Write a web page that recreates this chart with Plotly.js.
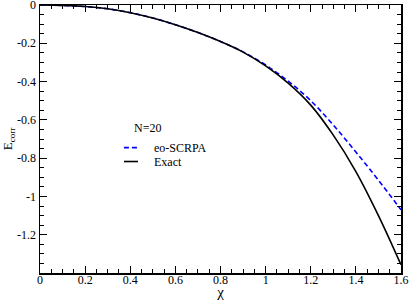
<!DOCTYPE html>
<html>
<head>
<meta charset="utf-8">
<script src="https://cdn.plot.ly/plotly-3.0.1.min.js"></script>
<style>html,body{margin:0;padding:0;background:#fff;}#chart{width:409px;height:300px;}</style>
</head>
<body>
<div id="chart"></div>
<script>
// Data
const chi = [0, 0.1, 0.2, 0.3, 0.4, 0.5, 0.6, 0.7, 0.8, 0.9, 1.0, 1.1, 1.2, 1.3, 1.4, 1.5, 1.6];
const eExact = [0, -0.002, -0.008, -0.02, -0.04, -0.068, -0.103, -0.144, -0.191, -0.246, -0.318, -0.408, -0.523, -0.68, -0.87, -1.1, -1.357];
const eScrpa = [0, -0.002, -0.008, -0.02, -0.04, -0.068, -0.103, -0.144, -0.191, -0.245, -0.313, -0.398, -0.5, -0.627, -0.768, -0.915, -1.07];
const xTickVals = [0, 0.2, 0.4, 0.6, 0.8, 1.0, 1.2, 1.4, 1.6];
const xTickText = ["0", "0.2", "0.4", "0.6", "0.8", "1", "1.2", "1.4", "1.6"];
const yTickVals = [0, -0.2, -0.4, -0.6, -0.8, -1.0, -1.2];
const yTickText = ["0", "-0.2", "-0.4", "-0.6", "-0.8", "-1", "-1.2"];
const seriesNames = ["eo-SCRPA", "Exact"];
const seriesColors = ["#0000ff", "#000000"];
const seriesDash = ["5px,3px", "solid"];
const label = "N=20";

const font = {family: "Liberation Serif, Times New Roman, serif", size: 12, color: "#000"};

const traces = [
  {x: chi, y: eScrpa, name: seriesNames[0], type: "scatter", mode: "lines",
   line: {color: seriesColors[0], width: 1.6, dash: seriesDash[0], shape: "spline"}},
  {x: chi, y: eExact, name: seriesNames[1], type: "scatter", mode: "lines",
   line: {color: seriesColors[1], width: 1.6, dash: seriesDash[1], shape: "spline"}}
];

const axisCommon = {
  showgrid: false, zeroline: false, showline: true, linewidth: 1.5, linecolor: "#000",
  mirror: "allticks", ticks: "inside", ticklen: 7, tickwidth: 1, tickcolor: "#000",
  tickmode: "array", tickfont: font, ticklabeloverflow: "allow",
  minor: {tickmode: "linear", tick0: 0, dtick: 0.05, ticks: "inside", ticklen: 4, tickwidth: 1, tickcolor: "#000"}
};

// Hand-placed legend (key lines + labels), styled from the series arrays
const legendX0 = 0.2325, legendX1 = 0.2715, legendTextX = 0.31;
const legendRows = [0.468, 0.416];
const shapes = seriesNames.map((n, i) => ({
  type: "line", xref: "paper", yref: "paper",
  x0: legendX0, x1: legendX1, y0: legendRows[i], y1: legendRows[i],
  line: {color: seriesColors[i], width: 1.6, dash: seriesDash[i]}
}));
const legendTexts = seriesNames.map((n, i) => ({
  text: n, xref: "paper", yref: "paper", x: legendTextX, y: legendRows[i],
  xanchor: "left", yanchor: "middle", showarrow: false, font: font
}));

const layout = {
  width: 409, height: 300,
  margin: {l: 40, r: 8, t: 5, b: 27},
  paper_bgcolor: "#fff", plot_bgcolor: "#fff",
  font: font,
  showlegend: false,
  xaxis: Object.assign({}, axisCommon, {
    range: [0, 1.6], tickvals: xTickVals, ticktext: xTickText, ticklabelstandoff: -5,
    title: {text: "χ", font: {family: font.family, size: 15, color: "#000"}, standoff: 0}
  }),
  yaxis: Object.assign({}, axisCommon, {
    range: [-1.4, 0], tickvals: yTickVals, ticktext: yTickText,
    title: {text: "E<sub>corr</sub>", font: {family: font.family, size: 13, color: "#000"}, standoff: 6}
  }),
  shapes: shapes,
  annotations: [
    {text: label, xref: "paper", yref: "paper", x: 0.255, y: 0.54, xanchor: "left", yanchor: "middle",
     showarrow: false, font: font}
  ].concat(legendTexts)
};

Plotly.newPlot("chart", traces, layout, {staticPlot: true, displayModeBar: false});
</script>
</body>
</html>
